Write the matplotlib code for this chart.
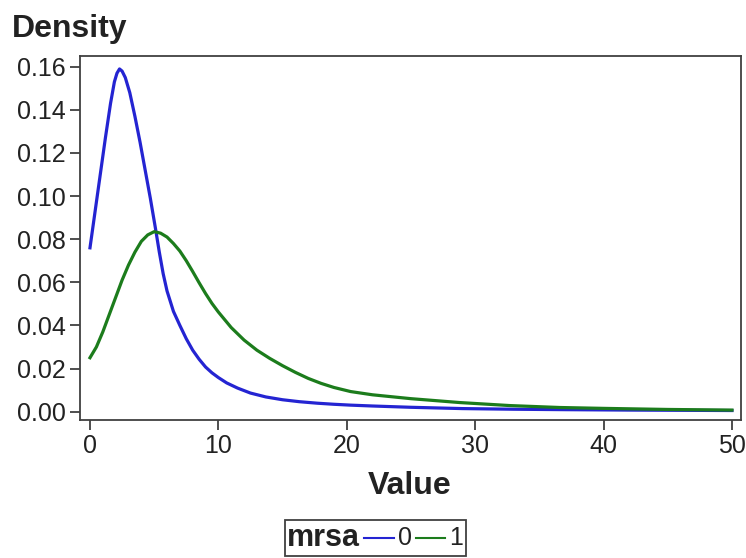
import matplotlib
matplotlib.use("Agg")
import matplotlib.pyplot as plt
from matplotlib.lines import Line2D
from matplotlib.offsetbox import AnchoredOffsetbox, HPacker, TextArea, DrawingArea

plt.rcParams['font.family'] = ['Liberation Sans', 'DejaVu Sans']

# density curves (mrsa = 0 blue, mrsa = 1 green)
x_blue = [0, 0.4, 0.8, 1.2, 1.6, 1.9, 2.1, 2.3, 2.5, 2.75, 3.1, 3.5, 3.9, 4.3, 4.7, 5.1,
          5.4, 5.7, 6.0, 6.5, 7.0, 7.5, 8.0, 8.5, 9.0, 9.5, 10.0, 10.65, 11.5, 12.5, 13.7,
          15.0, 16.3, 17.7, 19.0, 20.3, 22.0, 25.0, 29.0, 33.0, 37.0, 42.0, 46.0, 50.0]
d_blue = [0.076, 0.093, 0.110, 0.127, 0.143, 0.153, 0.157, 0.159, 0.158, 0.155, 0.148,
          0.137, 0.125, 0.112, 0.099, 0.085, 0.074, 0.064, 0.056, 0.0465, 0.0400, 0.0338,
          0.0285, 0.0243, 0.0207, 0.0180, 0.0158, 0.0133, 0.0109, 0.0086, 0.0068, 0.0055,
          0.0046, 0.0039, 0.0034, 0.0030, 0.0026, 0.0020, 0.0014, 0.0011, 0.0009, 0.0007,
          0.0006, 0.0005]

x_green = [0, 0.5, 1.0, 1.5, 2.0, 2.5, 3.0, 3.5, 4.0, 4.5, 5.0, 5.5, 6.0, 6.5, 7.0, 7.5,
           8.0, 8.5, 9.0, 9.5, 10.0, 11.0, 12.0, 13.0, 14.0, 15.0, 16.0, 17.0, 18.0, 19.0,
           20.3, 22.0, 25.0, 28.8, 32.7, 36.6, 40.0, 45.0, 50.0]
d_green = [0.025, 0.030, 0.037, 0.045, 0.053, 0.061, 0.068, 0.074, 0.079, 0.082, 0.0835,
           0.0828, 0.081, 0.078, 0.0745, 0.070, 0.065, 0.0598, 0.0548, 0.0502, 0.0462,
           0.0390, 0.0332, 0.0285, 0.0247, 0.0213, 0.0182, 0.0154, 0.0131, 0.0112, 0.0093,
           0.0078, 0.0060, 0.0042, 0.0028, 0.0019, 0.0015, 0.0010, 0.0007]

x_ticks = [0, 10, 20, 30, 40, 50]
y_ticks = [0.00, 0.02, 0.04, 0.06, 0.08, 0.10, 0.12, 0.14, 0.16]
groups = ['0', '1']
colors = ['#2424d2', '#1c7c1c']

text_col = '#222222'
spine_col = '#404040'

fig = plt.figure(figsize=(7.46, 5.58), dpi=100)
ax = fig.add_axes([0.1072, 0.2473, 0.886, 0.6523])

ax.plot(x_blue, d_blue, color=colors[0], lw=2.3)
ax.plot(x_green, d_green, color=colors[1], lw=2.3)

ax.set_xlim(-0.78, 50.7)
ax.set_ylim(-0.0039, 0.165)
ax.set_xticks(x_ticks)
ax.set_yticks(y_ticks)
ax.set_yticklabels([f"{v:.2f}" for v in y_ticks])

for s in ax.spines.values():
    s.set_color(spine_col)
    s.set_linewidth(1.3)
ax.tick_params(direction='out', length=7, width=1.3, color=spine_col,
               labelsize=18, labelcolor=text_col, pad=3)

fig.text(0.016, 0.948, 'Density', fontsize=23, fontweight='bold', color=text_col,
         ha='left', va='center')
fig.text(0.549, 0.129, 'Value', fontsize=23, fontweight='bold', color=text_col,
         ha='center', va='center')

# legend: mrsa —0 —1 in one row
items = [TextArea('mrsa', textprops=dict(fontsize=22, fontweight='bold', color=text_col))]
for g, c in zip(groups, colors):
    da = DrawingArea(21, 12, 0, 0)
    da.add_artist(Line2D([0, 21], [6, 6], color=c, lw=1.5))
    items.append(da)
    items.append(TextArea(g, textprops=dict(fontsize=18, color=text_col)))
pack = HPacker(children=items, align='center', pad=0, sep=3)
leg = AnchoredOffsetbox(loc='center', child=pack, frameon=True, pad=0.2, borderpad=0,
                        bbox_to_anchor=(0.503, 0.036), bbox_transform=fig.transFigure)
leg.patch.set_edgecolor(spine_col)
leg.patch.set_linewidth(1.3)
leg.patch.set_boxstyle('square', pad=0)
fig.add_artist(leg)

fig.savefig('out.png', dpi=100)
